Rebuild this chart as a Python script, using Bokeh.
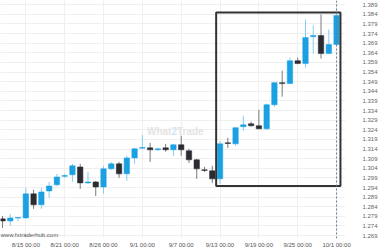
from bokeh.plotting import figure
from bokeh.models import Range1d, FixedTicker, PrintfTickFormatter, Span, Label, ColumnDataSource
from bokeh.embed import file_html
from bokeh.resources import INLINE

# ---- data (daily candles, index based) ----
opens = [1.2777, 1.2766, 1.2781, 1.2782, 1.2907, 1.2850, 1.2922, 1.2954, 1.2998, 1.3006,
         1.3047, 1.2964, 1.2969, 1.2943, 1.3037, 1.3063, 1.3011, 1.3094, 1.3144, 1.3146,
         1.3136, 1.3146, 1.3136, 1.3162, 1.3131, 1.3084, 1.3032, 1.3027, 1.2985, 1.3172,
         1.3167, 1.3256, 1.3271, 1.3261, 1.3245, 1.3370, 1.3485, 1.3480, 1.3599, 1.3584,
         1.3724, 1.3730, 1.3636, 1.3683]
highs = [1.2792, 1.2803, 1.2785, 1.2938, 1.2928, 1.2938, 1.2969, 1.3011, 1.3011, 1.3063,
         1.3063, 1.3021, 1.2974, 1.3053, 1.3073, 1.3073, 1.3105, 1.3146, 1.3214, 1.3172,
         1.3146, 1.3167, 1.3167, 1.3209, 1.3141, 1.3089, 1.3047, 1.3053, 1.3183, 1.3198,
         1.3253, 1.3313, 1.3282, 1.3344, 1.3376, 1.3487, 1.3547, 1.3615, 1.3615, 1.3813,
         1.3782, 1.3839, 1.3761, 1.3836]
lows = [1.2730, 1.2740, 1.2766, 1.2777, 1.2829, 1.2829, 1.2886, 1.2948, 1.2990, 1.2969,
        1.2933, 1.2959, 1.2896, 1.2907, 1.3032, 1.2990, 1.2974, 1.3063, 1.3144, 1.3073,
        1.3131, 1.3126, 1.3105, 1.3105, 1.3068, 1.2985, 1.3021, 1.2964, 1.2959, 1.3146,
        1.3157, 1.3235, 1.3256, 1.3243, 1.3240, 1.3360, 1.3412, 1.3478, 1.3582, 1.3563,
        1.3636, 1.3610, 1.3633, 1.3680]
closes = [1.2766, 1.2782, 1.2784, 1.2907, 1.2850, 1.2917, 1.2948, 1.2995, 1.3002, 1.3053,
          1.2964, 1.2969, 1.2943, 1.3037, 1.3063, 1.3011, 1.3094, 1.3141, 1.3148, 1.3136,
          1.3141, 1.3136, 1.3162, 1.3136, 1.3084, 1.3037, 1.3029, 1.2985, 1.3167, 1.3169,
          1.3251, 1.3266, 1.3261, 1.3245, 1.3370, 1.3485, 1.3480, 1.3599, 1.3584, 1.3719,
          1.3730, 1.3636, 1.3683, 1.3834]

tick_index = [3, 8, 13, 18, 23, 28, 33, 38, 43]
tick_labels = ["8/15 00:00", "8/21 00:00", "8/26 00:00", "9/1 00:00", "9/7 00:00",
               "9/13 00:00", "9/19 00:00", "9/25 00:00", "10/1 00:00"]
price_ticks = [round(1.269 + 0.005 * k, 3) for k in range(25)]

# pattern rectangle (time span in candle index, price bounds)
pattern_start, pattern_end = 27.5, 43.5
pattern_top, pattern_bottom = 1.38494, 1.29484

UP = "#1ba1e2"
DOWN = "#2b2b33"
UP_WICK = "#86cdee"
DOWN_WICK = "#7a7a7a"

n = len(opens)
xs = list(range(n))
up = [c >= o for o, c in zip(opens, closes)]
src = ColumnDataSource(dict(
    x=xs,
    top=[max(o, c) for o, c in zip(opens, closes)],
    bottom=[min(o, c) for o, c in zip(opens, closes)],
    high=highs, low=lows,
    color=[UP if u else DOWN for u in up],
    wick=[UP_WICK if u else DOWN_WICK for u in up],
))

p = figure(width=380, height=250, output_backend="svg", toolbar_location=None,
           x_range=Range1d(-0.26, 44.15), y_range=Range1d(1.2675, 1.39119),
           y_axis_location="right", x_axis_location="below",
           min_border_left=0, min_border_right=0, min_border_top=0, min_border_bottom=0)
p.outline_line_color = None
p.background_fill_color = "white"
p.border_fill_color = "white"

# axes
p.yaxis.ticker = FixedTicker(ticks=price_ticks)
p.yaxis.formatter = PrintfTickFormatter(format="%.3f")
p.yaxis.axis_line_color = None
p.yaxis.major_tick_line_color = None
p.yaxis.minor_tick_line_color = None
p.yaxis.major_tick_out = 0
p.yaxis.major_tick_in = 0
p.yaxis.minor_tick_out = 0
p.yaxis.major_label_standoff = 17
p.yaxis.major_label_text_font = "Liberation Sans"
p.yaxis.major_label_text_font_size = "6px"
p.yaxis.major_label_text_color = "#666666"

p.xaxis.ticker = FixedTicker(ticks=tick_index)
p.xaxis.major_label_overrides = {i: s for i, s in zip(tick_index, tick_labels)}
p.xaxis.axis_line_color = None
p.xaxis.major_tick_line_color = None
p.xaxis.minor_tick_line_color = None
p.xaxis.major_tick_out = 0
p.xaxis.major_tick_in = 0
p.xaxis.minor_tick_out = 0
p.xaxis.major_label_standoff = 3
p.xaxis.major_label_text_font = "Liberation Sans"
p.xaxis.major_label_text_font_size = "6px"
p.xaxis.major_label_text_color = "#555555"

p.xgrid.ticker = FixedTicker(ticks=tick_index)
p.ygrid.ticker = FixedTicker(ticks=price_ticks)
p.xgrid.grid_line_color = "#efefef"
p.ygrid.grid_line_color = "#efefef"

# watermark  What / 2 / Trade
wm_x, wm_y = 22.10, 1.3232
for txt, align, off, col in (("What", "right", -2.8, "#e4e4e4"),
                             ("2", "center", 0, "#cbe8f6"),
                             ("Trade", "left", 2.8, "#e4e4e4")):
    p.add_layout(Label(x=wm_x, y=wm_y, x_offset=off, text=txt, text_align=align,
                       text_baseline="middle", text_font="Liberation Sans",
                       text_font_style="bold", text_font_size="10px", text_color=col))

# candles
p.segment(x0="x", x1="x", y0="low", y1="high", line_color="wick", line_width=1, source=src)
p.vbar(x="x", width=0.7, top="top", bottom="bottom", fill_color="color",
       line_color="color", line_width=0.5, source=src)

# pattern rectangle
p.quad(left=[pattern_start], right=[pattern_end], top=[pattern_top], bottom=[pattern_bottom],
       fill_color=None, line_color="#333333", line_width=2)

# current candle marker
p.add_layout(Span(location=xs[-1], dimension="height", line_color="#5f7f8f",
                  line_dash="2 2", line_width=1))

# source footer
p.add_layout(Label(x=0, y=1, x_units="screen", y_units="screen",
                   text="www.fxtraderhub.com", text_align="left", text_baseline="bottom",
                   text_font="Liberation Sans", text_font_size="6px", text_color="#555555"))

open("out.html", "w").write(file_html(p, INLINE))
